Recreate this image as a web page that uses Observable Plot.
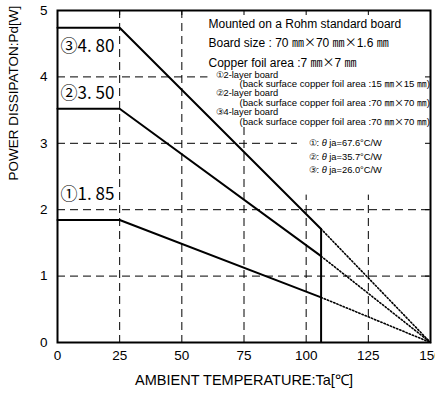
<!DOCTYPE html>
<html><head><meta charset="utf-8">
<script src="https://cdn.jsdelivr.net/npm/d3@7"></script>
<script src="https://cdn.jsdelivr.net/npm/@observablehq/plot@0.6"></script>
<style>body{margin:0;background:#fff}</style>
</head><body><div id="chart"></div>
<script>
// ---- data ----
const seriesNames = ["①", "②", "③"];
const flatPd = [1.845, 3.52, 4.74];      // W, flat part 0–25 °C
const cutoffPd = [0.68, 1.30, 1.71];     // W, at the solid-line end
const valueLabels = ["①1. 85", "②3. 50", "③4. 80"];
const derateStartTa = 25;
const cutoffTa = 106;
const tjMaxTa = 150;
const xTicks = [0, 25, 50, 75, 100, 125, 150];
const yTicks = [0, 1, 2, 3, 4, 5];
const boardNotes = ["Mounted on a Rohm standard board", "Board size : 70 ㎜×70 ㎜×1.6 ㎜", "Copper foil area :7 ㎜×7 ㎜"];
const layerBoards = ["①2-layer board", "②2-layer board", "③4-layer board"];
const backCopper = ["(back surface copper foil area :15 ㎜×15 ㎜)", "(back surface copper foil area :70 ㎜×70 ㎜)", "(back surface copper foil area :70 ㎜×70 ㎜)"];
const thetaNotes = ["①: θ ja=67.6°C/W", "②: θ ja=35.7°C/W", "③: θ ja=26.0°C/W"];
const xTitle = "AMBIENT TEMPERATURE:Ta[℃]";
const yTitle = "POWER DISSIPATON:Pd[W]";
// white panels behind the notes (data units)
const noteBoxes = [{x1: 60.5, x2: 150, y1: 3.27, y2: 5}, {x1: 96.5, x2: 150, y1: 2.22, y2: 3.27}];

// ---- derived tables ----
const solid = seriesNames.flatMap((s, i) => [
  {s, ta: 0, pd: flatPd[i]},
  {s, ta: derateStartTa, pd: flatPd[i]},
  {s, ta: cutoffTa, pd: cutoffPd[i]}
]);
const dotted = seriesNames.flatMap((s, i) => [
  {s, ta: cutoffTa, pd: cutoffPd[i]},
  {s, ta: tjMaxTa, pd: 0}
]);
const labelDy = [-25, -15, 19];

const font = "Liberation Sans, Arial, sans-serif";

const marks = [
  Plot.ruleX(xTicks.slice(1, -1), {stroke: "#000", strokeWidth: 1, strokeDasharray: "8,5"}),
  Plot.ruleY(yTicks.slice(1, -1), {stroke: "#000", strokeWidth: 1, strokeDasharray: "8,5"}),
  Plot.rect(noteBoxes, {x1: "x1", x2: "x2", y1: "y1", y2: "y2", fill: "#fff"}),
  Plot.tickX(xTicks, {x: d => d, stroke: "#000", strokeWidth: 1, insetBottom: 327}),
  Plot.tickY(yTicks, {y: d => d, stroke: "#000", strokeWidth: 1, insetLeft: 368}),
  Plot.line(dotted, {x: "ta", y: "pd", z: "s", stroke: "#000", strokeWidth: 1.6, strokeDasharray: "1.4,2"}),
  Plot.line(solid, {x: "ta", y: "pd", z: "s", stroke: "#000", strokeWidth: 2}),
  Plot.ruleX([cutoffTa], {y1: 0, y2: d3.max(cutoffPd), stroke: "#000", strokeWidth: 2}),
  Plot.frame({stroke: "#000", strokeWidth: 2}),
  ...valueLabels.map((t, i) => Plot.text([t], {
    x: 0, y: flatPd[i], dx: 3, dy: labelDy[i], textAnchor: "start",
    fontFamily: "Noto Sans CJK JP", fontSize: 17, fill: "#000"
  })),
  Plot.text([boardNotes.join("\n")], {
    frameAnchor: "top-left", dx: 151, dy: 3.5, lineAnchor: "top", lineHeight: 1.63,
    textAnchor: "start", fontSize: 12, fontFamily: font, fill: "#000"
  }),
  ...layerBoards.map((t, i) => Plot.text([t], {
    frameAnchor: "top-left", dx: 158, dy: 60.5 + i * 18.7, lineAnchor: "top",
    textAnchor: "start", fontSize: 9.3, fontFamily: font, fill: "#000"
  })),
  ...backCopper.map((t, i) => Plot.text([t], {
    frameAnchor: "top-left", dx: 182, dy: 70 + i * 18.7, lineAnchor: "top",
    textAnchor: "start", fontSize: 9.6, fontFamily: font, fill: "#000"
  })),
  Plot.text([thetaNotes.join("\n")], {
    frameAnchor: "top-left", dx: 251, dy: 126, lineAnchor: "top", lineHeight: 1.45,
    textAnchor: "start", fontSize: 9.3, fontFamily: font, fill: "#000"
  }),
  Plot.text([xTitle], {frameAnchor: "bottom", dy: 42, fontSize: 14.5, fontFamily: font, fill: "#000"}),
  Plot.text([yTitle], {frameAnchor: "left", dx: -44, dy: 4, rotate: -90, fontSize: 13.5, fontFamily: font, fill: "#000"})
];

const chart = Plot.plot({
  width: 435,
  height: 398,
  marginLeft: 57,
  marginRight: 5,
  marginTop: 10,
  marginBottom: 56,
  style: {fontFamily: font, fontSize: "13.5px", color: "#000", background: "#fff"},
  x: {domain: [0, 150], ticks: xTicks, tickFormat: "d", tickSize: 0, tickPadding: 8, label: null},
  y: {domain: [0, 5], ticks: yTicks, tickFormat: "d", tickSize: 0, tickPadding: 10, label: null},
  marks
});

// style special glyphs: italic θ, full-width CJK ㎜ and ×
const ns = "http://www.w3.org/2000/svg";
function splitSpecial(node) {
  const txt = node.textContent;
  if (!/[θ㎜×]/.test(txt)) return;
  node.textContent = "";
  let buf = "";
  const flush = () => { if (buf) { const s = document.createElementNS(ns, "tspan"); s.textContent = buf; node.append(s); buf = ""; } };
  for (const ch of txt) {
    if (ch === "θ" || ch === "㎜" || ch === "×") {
      flush();
      const s = document.createElementNS(ns, "tspan");
      s.textContent = ch;
      s.setAttribute("fill", "#000");
      if (ch === "θ") s.setAttribute("font-style", "italic");
      else s.setAttribute("font-family", "Noto Sans CJK JP");
      node.append(s);
    } else buf += ch;
  }
  flush();
}
chart.querySelectorAll("text").forEach(t => {
  const spans = t.querySelectorAll("tspan");
  if (spans.length === 0) splitSpecial(t);
  else spans.forEach(splitSpecial);
});

document.getElementById("chart").append(chart);
</script>
</body></html>
